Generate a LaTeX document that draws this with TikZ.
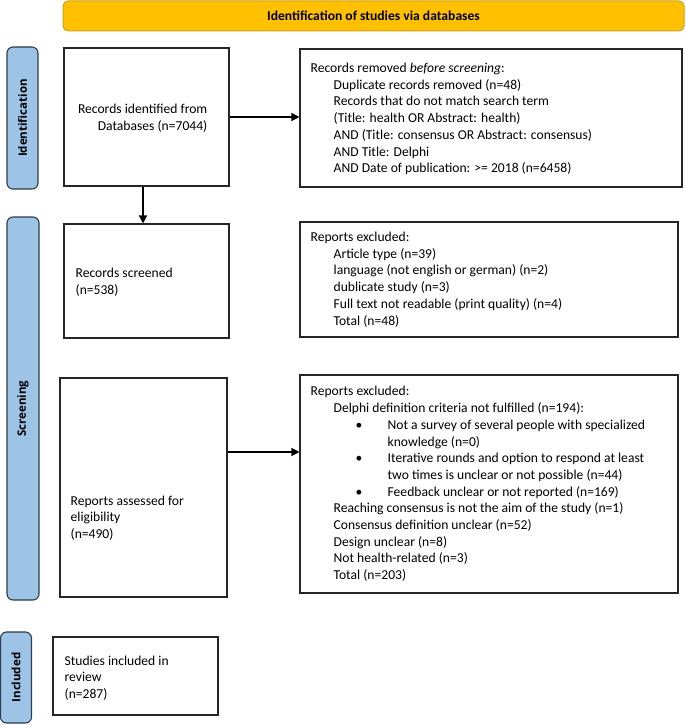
\documentclass[tikz,border=0pt]{standalone}
\usepackage{fontspec}
\setmainfont{Carlito}
\newfontfamily\labfont{Open Sans}
\usetikzlibrary{arrows.meta}
\definecolor{phaseblue}{HTML}{9DC3E6}
\definecolor{phaseedge}{HTML}{2E3B4E}
\definecolor{gold}{HTML}{FFC000}
\definecolor{goldedge}{HTML}{D0A21A}
\newcommand\indA{\hspace*{23pt}}
\newcommand\bul{\hspace*{45pt}\makebox[32pt][l]{•}}
\newcommand\indB{\hspace*{77pt}}
\begin{document}
\begin{tikzpicture}[x=1pt,y=-1pt,
  box/.style={draw=black!85,line width=1.1pt,fill=white,inner sep=0pt},
  phase/.style={draw=phaseedge,line width=1.1pt,fill=phaseblue,rounded corners=6pt,inner sep=0pt},
  phasetxt/.style={font=\labfont\bfseries\fontsize{11.5}{13}\selectfont,rotate=90},
  txt/.style={font=\fontsize{13.6}{16.7}\selectfont,align=left,inner sep=0pt,anchor=west},
  arr/.style={line width=1.3pt,-{Triangle[length=8pt,width=8pt]}}]
\useasboundingbox (0,0) rectangle (685,725);
% header
\node[draw=goldedge,line width=1pt,fill=gold,rounded corners=5pt,minimum width=621pt,minimum height=30pt,inner sep=0pt,
  font=\bfseries\fontsize{13.6}{15}\selectfont] (head) at (373.5,16) {Identification of studies via databases};
% phase labels
\node[phase,minimum width=31pt,minimum height=142pt] (pid) at (22.5,118) {};
\node[phasetxt] (pidt) at (pid.center) {Identification};
\node[phase,minimum width=32pt,minimum height=383pt] (pscr) at (23,408.5) {};
\node[phasetxt] (pscrt) at (pscr.center) {Screening};
\node[phase,minimum width=31pt,minimum height=91pt] (pinc) at (16,677.5) {};
\node[phasetxt] (pinct) at (pinc.center) {Included};
% boxes
\node[box,minimum width=165pt,minimum height=138pt] (ident) at (146.5,117) {};
\node[txt,align=right,anchor=east] (identt) at ([xshift=-22pt,yshift=-1pt]ident.east) {Records identified from\\Databases (n=7044)};
\node[box,minimum width=382pt,minimum height=138pt] (rem) at (491,118) {};
\node[txt] (remt) at ([xshift=11pt,yshift=-1pt]rem.west) {Records removed \textit{before screening}:\\
\indA Duplicate records removed (n=48)\\
\indA Records that do not match search term\\
\indA (Title: health OR Abstract: health)\\
\indA AND (Title: consensus OR Abstract: consensus)\\
\indA AND Title: Delphi\\
\indA AND Date of publication: >= 2018 (n=6458)};
\node[box,minimum width=165pt,minimum height=114pt] (scr) at (146.5,281) {};
\node[txt] (scrt) at ([xshift=12pt,yshift=-1pt]scr.west) {Records screened\\(n=538)};
\node[box,minimum width=378pt,minimum height=115pt] (exa) at (489,279.5) {};
\node[txt] (exat) at ([xshift=11pt]exa.west) {Reports excluded:\\
\indA Article type (n=39)\\
\indA language (not english or german) (n=2)\\
\indA dublicate study (n=3)\\
\indA Full text not readable (print quality) (n=4)\\
\indA Total (n=48)};
\node[box,minimum width=167pt,minimum height=219pt] (ass) at (143.5,487.5) {};
\node[txt] (asst) at ([xshift=11pt,yshift=-30.5pt]ass.west) {Reports assessed for\\eligibility\\(n=490)};
\node[box,minimum width=378pt,minimum height=218pt] (exb) at (489,484) {};
\node[txt] (exbt) at ([xshift=11pt]exb.west) {Reports excluded:\\
\indA Delphi definition criteria not fulfilled (n=194):\\
\bul Not a survey of several people with specialized\\
\indB knowledge (n=0)\\
\bul Iterative rounds and option to respond at least\\
\indB two times is unclear or not possible (n=44)\\
\bul Feedback unclear or not reported (n=169)\\
\indA Reaching consensus is not the aim of the study (n=1)\\
\indA Consensus definition unclear (n=52)\\
\indA Design unclear (n=8)\\
\indA Not health-related (n=3)\\
\indA Total (n=203)};
\node[box,minimum width=165pt,minimum height=78pt] (inc) at (135.5,676) {};
\node[txt] (inct) at ([xshift=12pt,yshift=-2pt]inc.west) {Studies included in\\review\\(n=287)};
% arrows
\draw[arr] (ident.east) -- (ident.east -| rem.west);
\draw[arr] ([xshift=-3.5pt]ident.south) -- ([xshift=-3.5pt]ident.south |- scr.north);
\draw[arr] ([yshift=35.5pt]ass.east) -- ([yshift=35.5pt]ass.east -| exb.west);
\end{tikzpicture}
\end{document}
